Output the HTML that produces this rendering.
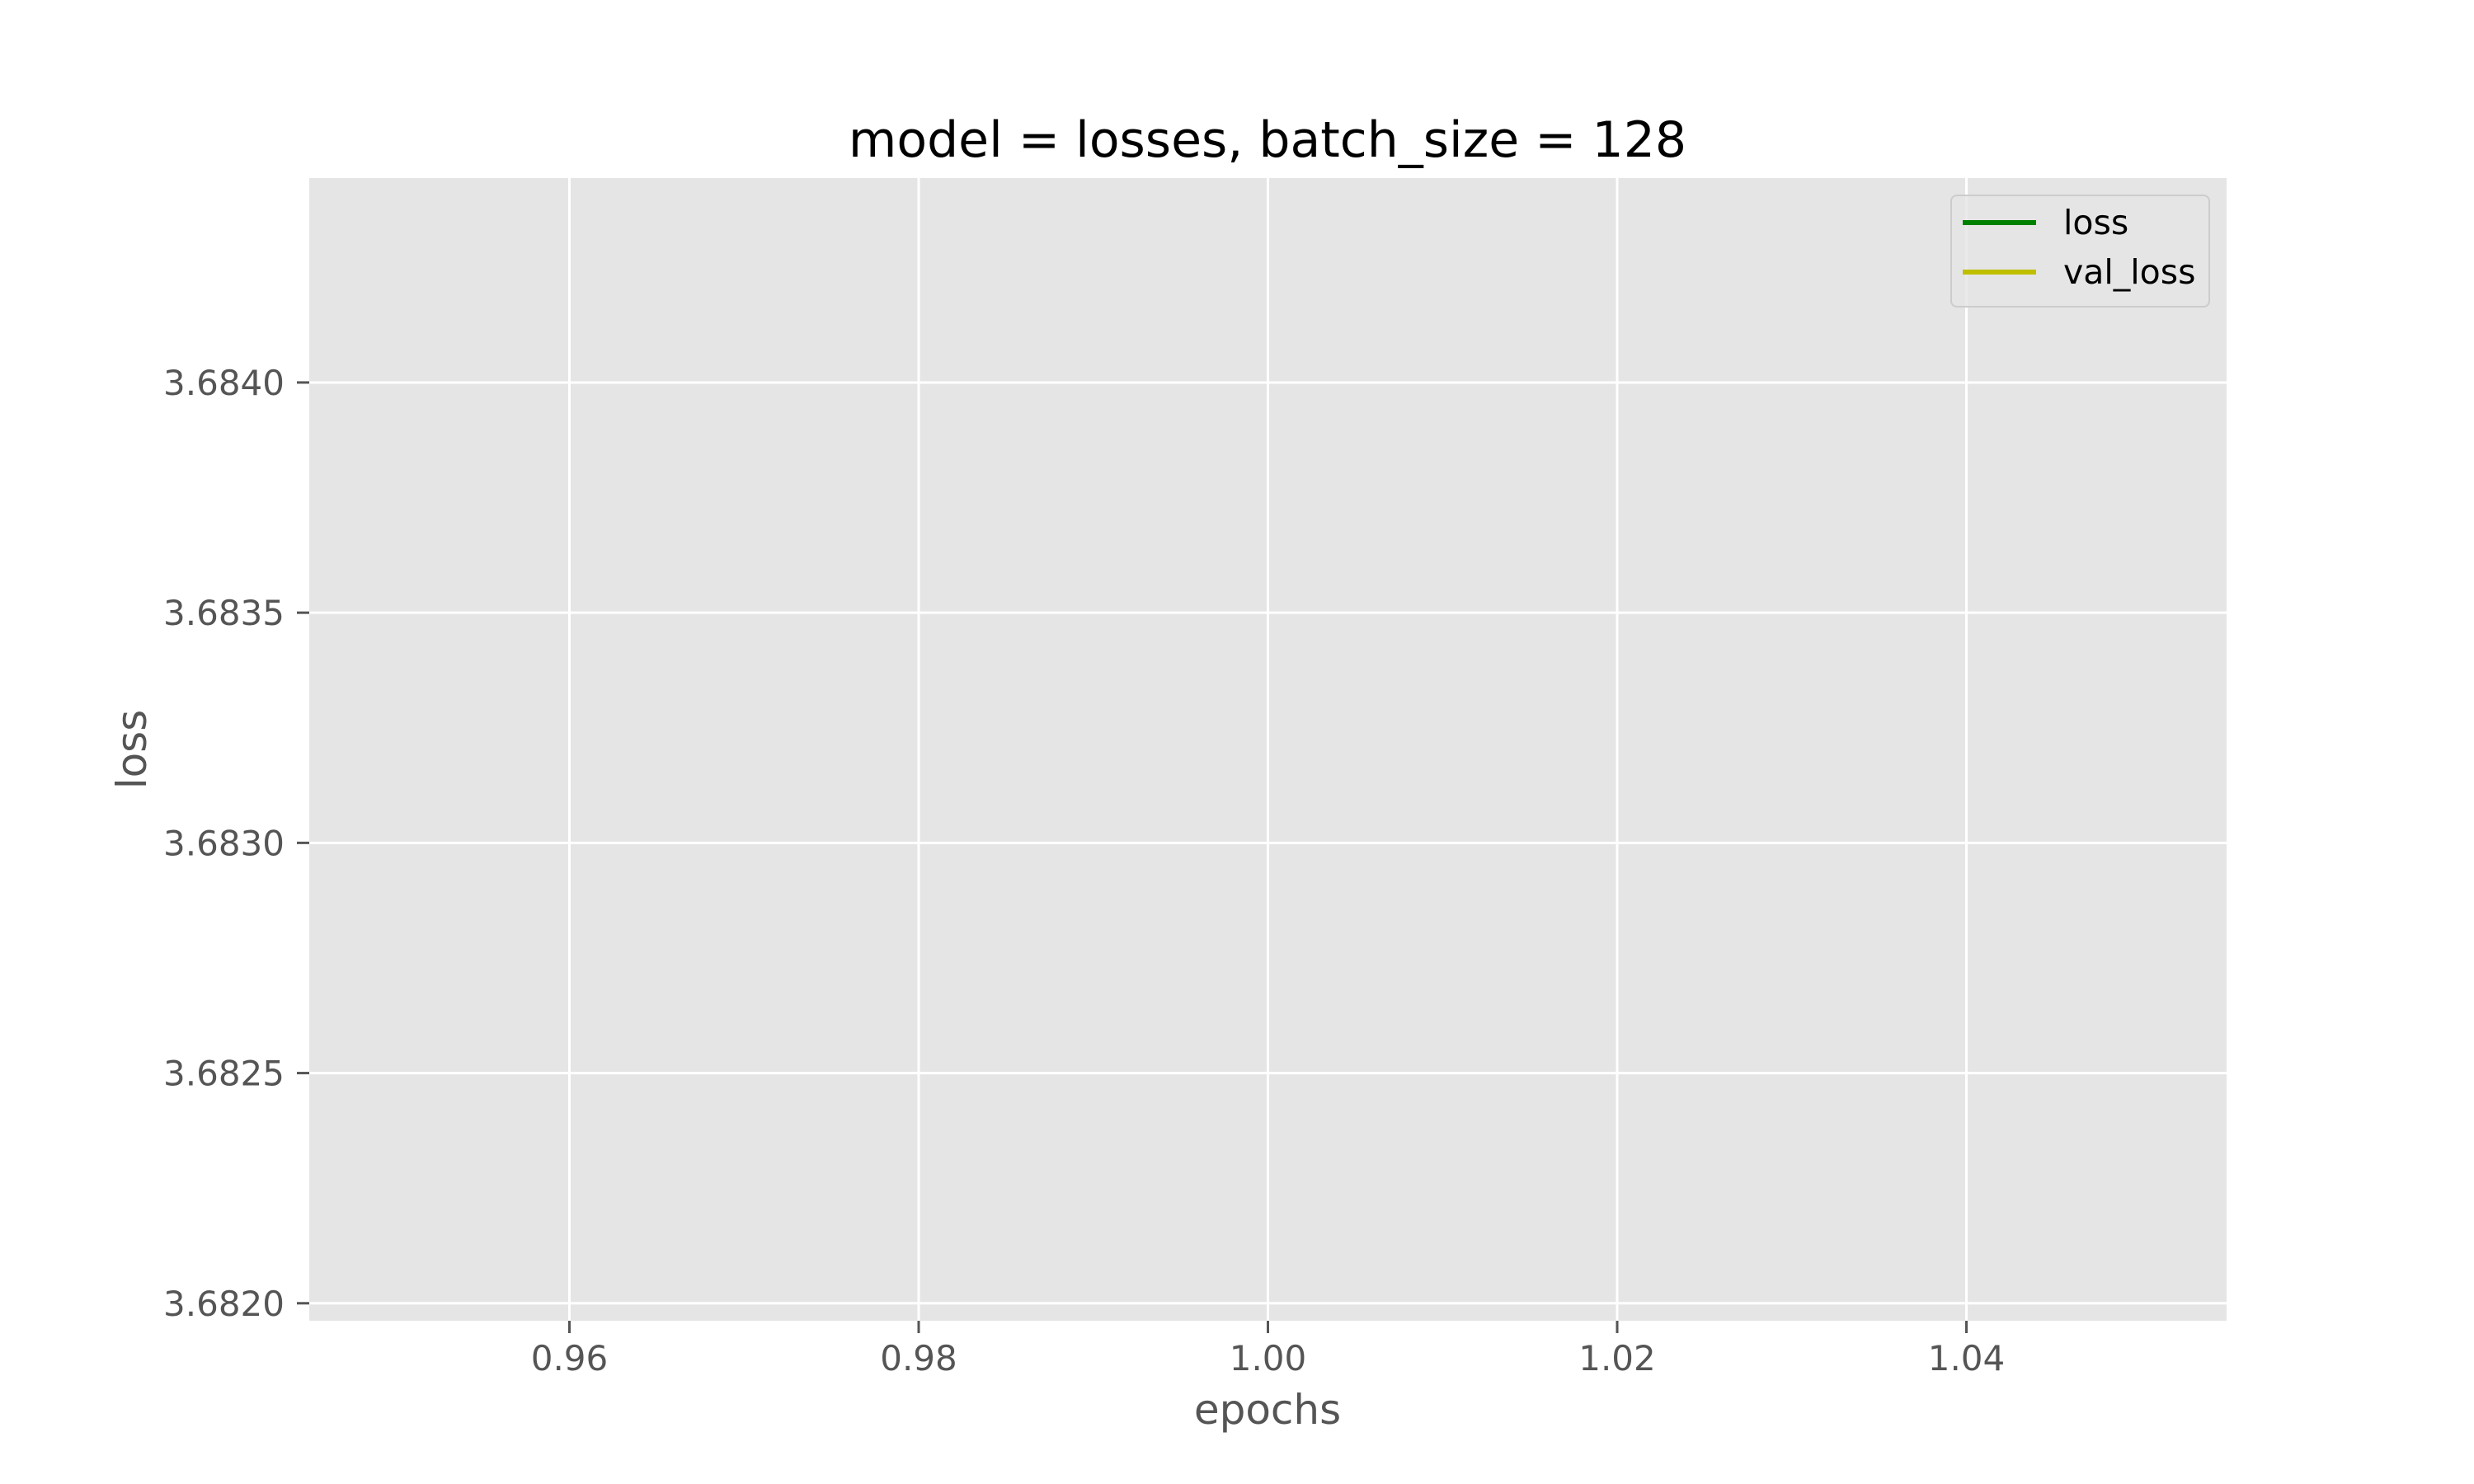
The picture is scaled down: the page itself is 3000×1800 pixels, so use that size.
<!DOCTYPE html>
<html><head><meta charset="utf-8"><style>
html,body{margin:0;padding:0;background:#fff;}
svg{display:block;font-family:"DejaVu Sans","Liberation Sans",sans-serif;}
</style></head><body>
<svg id="chart" width="3000" height="1800" viewBox="0 0 3000 1800" xmlns="http://www.w3.org/2000/svg">
<rect x="0" y="0" width="3000" height="1800" fill="#ffffff"/>
<text x="1537" y="190" font-size="60" text-anchor="middle" fill="#000">model = losses, batch_size = 128</text>
<rect x="375" y="216" width="2325" height="1386" fill="#e5e5e5"/>
<g id="grid"></g>
<g id="series"></g>
<g id="ticks"></g>
<text x="1537" y="1727" font-size="50" text-anchor="middle" fill="#555">epochs</text>
<text x="177" y="909" font-size="50" text-anchor="middle" fill="#555" transform="rotate(-90 177 909)">loss</text>
<g>
<rect x="2366" y="237" width="313" height="135" rx="7" fill="#e5e5e5" fill-opacity="0.8" stroke="#cccccc" stroke-width="2"/>
<line x1="2380" y1="270" x2="2469" y2="270" stroke="#008000" stroke-width="6"/>
<text x="2502" y="284" font-size="41" fill="#000">loss</text>
<line x1="2380" y1="330" x2="2469" y2="330" stroke="#bfbf00" stroke-width="6"/>
<text x="2502" y="344" font-size="41" fill="#000">val_loss</text>
</g>
</svg>
<script>
const epochs = [1];
const lossValues = [3.6832];
const valLossValues = [3.6832];
const xTicks = [0.96, 0.98, 1.00, 1.02, 1.04];
const xTickLabels = ["0.96", "0.98", "1.00", "1.02", "1.04"];
const yTicks = [3.6820, 3.6825, 3.6830, 3.6835, 3.6840];
const yTickLabels = ["3.6820", "3.6825", "3.6830", "3.6835", "3.6840"];

const L=375,R=2700,T=216,B=1602;
const xMin=0.9451,xMax=1.0549,yMin=3.681962,yMax=3.684444;
function sx(v){return L+(v-xMin)/(xMax-xMin)*(R-L);}
function sy(v){return B-(v-yMin)/(yMax-yMin)*(B-T);}
const NS="http://www.w3.org/2000/svg";
function mk(tag,attrs,parent){const e=document.createElementNS(NS,tag);for(const k in attrs)e.setAttribute(k,attrs[k]);parent.appendChild(e);return e;}
const grid=document.getElementById('grid'),ticks=document.getElementById('ticks'),series=document.getElementById('series');
xTicks.forEach((v,i)=>{
  const x=sx(v);
  const g=mk('line',{x1:x,y1:T,x2:x,y2:B,stroke:'#fff','stroke-width':3},grid);
  
  
  const t=mk('line',{x1:x,y1:B,x2:x,y2:B+15,stroke:'#555','stroke-width':3},ticks);
  
  
  const l=mk('text',{x:x,y:1662,'font-size':42,'text-anchor':'middle',fill:'#555'},ticks);
  l.textContent=xTickLabels[i];
  
  
});
yTicks.forEach((v,i)=>{
  const y=sy(v);
  const g=mk('line',{x1:L,y1:y,x2:R,y2:y,stroke:'#fff','stroke-width':3},grid);
  
  
  const t=mk('line',{x1:L-15,y1:y,x2:L,y2:y,stroke:'#555','stroke-width':3},ticks);
  
  
  const l=mk('text',{x:345,y:y+15,'font-size':42,'text-anchor':'end',fill:'#555'},ticks);
  l.textContent=yTickLabels[i];
  
  
});
function line(vals,color,name){
  const pts=epochs.map((e,i)=>sx(e)+','+sy(vals[i])).join(' ');
  const p=mk('polyline',{points:pts,fill:'none',stroke:color,'stroke-width':5},series);
  
  
}
line(lossValues,'#008000','loss-line');
line(valLossValues,'#bfbf00','val-loss-line');
</script>
</body></html>
